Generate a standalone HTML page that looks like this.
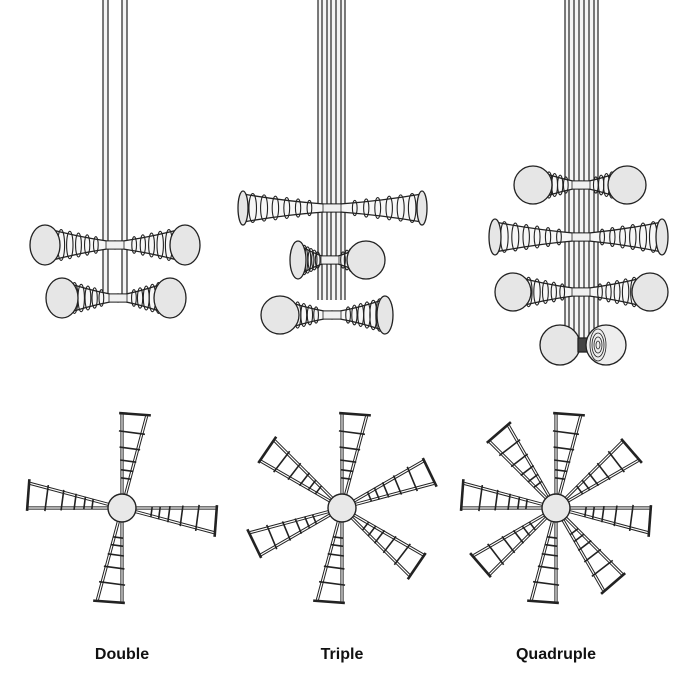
<!DOCTYPE html>
<html><head><meta charset="utf-8"><style>
html,body{margin:0;padding:0;background:#fff;}
svg{display:block}
text{font-family:"Liberation Sans",sans-serif;font-weight:bold;font-size:16px;fill:#111;text-anchor:middle}
</style></head><body>
<svg id="s" width="700" height="700" viewBox="0 0 700 700" xmlns="http://www.w3.org/2000/svg">
<g id="g" fill="none" stroke="#222" stroke-width="1.3"></g>
<text x="122" y="659">Double</text>
<text x="342" y="659">Triple</text>
<text x="556" y="659">Quadruple</text>
</svg>
<script>
(function(){
var G=document.getElementById('g'),NS='http://www.w3.org/2000/svg';
function el(t,a){var e=document.createElementNS(NS,t);for(var k in a)e.setAttribute(k,a[k]);G.appendChild(e);return e;}
function ln(x1,y1,x2,y2,w,c){return el('line',{x1:x1,y1:y1,x2:x2,y2:y2,'stroke-width':w||1.3,stroke:c||'#222'});}
function shafts(xs,y2){xs.forEach(function(x){ln(x,0,x,y2,1.2);});}
function shaftFill(x1,x2,y2){el('rect',{x:x1,y:0,width:x2-x1,height:y2,fill:'#f4f4f4',stroke:'none'});}
function rr(t,ry){return 4+(ry-4)*Math.pow(t,0.9);}
function horn(hx,cy,ex,ry,rx){
  var d=ex>hx?1:-1,h0=hx+d*8;
  var mx=(h0+ex)/2,my=(4+ry)/2-2;
  el('path',{d:'M'+hx+' '+(cy-4)+' L'+h0+' '+(cy-4)+' Q'+mx+' '+(cy-my)+' '+ex+' '+(cy-ry)+' L'+ex+' '+(cy+ry)+' Q'+mx+' '+(cy+my)+' '+h0+' '+(cy+4)+' L'+hx+' '+(cy+4)+'Z',fill:'#f7f7f7'});
  [0.18,0.32,0.46,0.6,0.74,0.88].forEach(function(t){
    var x=h0+(ex-h0)*t,r=rr(t,ry)+1.5;
    el('ellipse',{cx:x,cy:cy,rx:2+2*t,ry:r,fill:'none','stroke-width':1.1});
  });
  el('ellipse',{cx:ex,cy:cy,rx:rx,ry:ry+3,fill:'#e6e6e6'});
}
function imp(hx,cy,l,r,ry,rxl,rxr){horn(hx,cy,l,ry,rxl);horn(hx,cy,r,ry,rxr);el('rect',{x:hx-9,y:cy-4,width:18,height:8,fill:'#f0f0f0','stroke-width':0.8});}
shaftFill(103,108,300);shaftFill(122,127,300);
shafts([103,108,122,127],300);
imp(115,245,45,185,17,15,15);
imp(118,298,62,170,17,16,16);
shaftFill(318,345,300);
shafts([318,322,327,331,336,341,345],300);
imp(332,208,243,422,14,5,5);
imp(330,260,298,366,16,8,19);
imp(332,315,280,385,16,19,8);
shaftFill(565,598,340);
shafts([565,569,574,579,584,589,594,598],340);
imp(581,185,533,627,16,19,19);
imp(581,237,495,662,15,6,6);
imp(581,292,513,650,16,18,18);
el('circle',{cx:560,cy:345,r:20,fill:'#e6e6e6'});
el('rect',{x:578,y:338,width:10,height:14,fill:'#444'});
el('circle',{cx:606,cy:345,r:20,fill:'#eee'});
[4,8,12,16].forEach(function(r){el('ellipse',{cx:598,cy:345,rx:r*0.5,ry:r,'stroke-width':0.8});});
function blade(cx,cy,ang){
  var a=ang*Math.PI/180,b=(ang+15)*Math.PI/180,R0=14,R=95;
  function p(th,r){return [cx+r*Math.cos(th),cy+r*Math.sin(th)];}
  var p1=p(a,R0),p2=p(a,R),q1=p(b,R0),q2=p(b,R);
  [[p1,p2],[q1,q2]].forEach(function(s){ln(s[0][0],s[0][1],s[1][0],s[1][1],3.2);ln(s[0][0],s[0][1],s[1][0],s[1][1],1.2,'#fff');});
  var t1=p(a-0.03,R),t2=p(b+0.04,R+2);
  ln(t1[0],t1[1],t2[0],t2[1],2.6);
  [0.2,0.3,0.42,0.58,0.78].forEach(function(t){
    var r=R0+(R-R0)*t,u=p(a-0.04,r),v=p(b+0.04,r);
    ln(u[0],u[1],v[0],v[1],1.6);
  });
}
function topView(cx,cy,n){for(var i=0;i<n;i++)blade(cx,cy,-90+i*360/n);el('circle',{cx:cx,cy:cy,r:14,fill:'#e8e8e8','stroke-width':1.4});}
topView(122,508,4);topView(342,508,6);topView(556,508,8);
})();
</script>
</body></html>
